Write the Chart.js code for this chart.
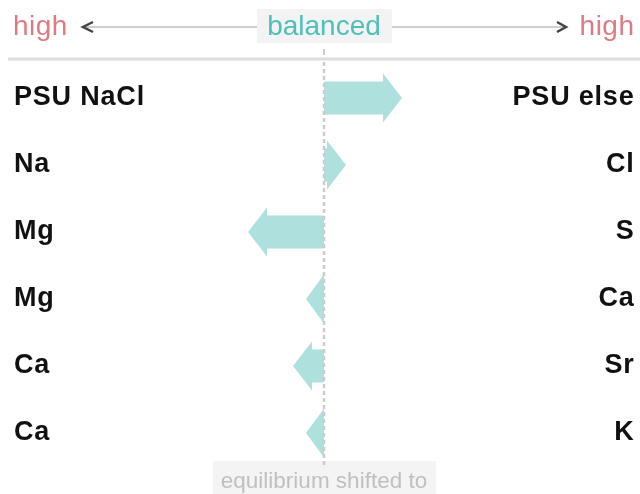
<!DOCTYPE html>
<html>
<head>
<meta charset="utf-8">
<title>Equilibrium shift</title>
<script src="https://cdn.jsdelivr.net/npm/chart.js@4"></script>
<style>
    html, body { margin: 0; padding: 0; background: #fff; }
    #wrap { width: 640px; height: 494px; }
</style>
</head>
<body>
<div id="wrap"><canvas id="shift-chart" width="640" height="494"></canvas></div>
<script>
// left-hand / right-hand element of each pair, and how far the equilibrium is shifted
const leftLabels = ['PSU NaCl', 'Na', 'Mg', 'Mg', 'Ca', 'Ca'];
const rightLabels = ['PSU else', 'Cl', 'S', 'Ca', 'Sr', 'K'];
const shiftValues = [78, 22, -76, -18, -31, -18];
const axisMin = -100;
const axisMax = 100;

const FONT = '"Liberation Sans", Arial, Helvetica, sans-serif';
const ARROW_COLOR = '#aee0de';

// draws the header, row labels, arrows and centre line around the (invisible) bars
const arrowPlugin = {
    id: 'arrowPlugin',
    beforeDraw(chart) {
        const { ctx } = chart;
        const cx = chart.scales.x.getPixelForValue(0);
        ctx.save();

        // header: high <-- balanced --> high
        ctx.textBaseline = 'middle';
        ctx.font = '28px ' + FONT;
        ctx.letterSpacing = '0.5px';
        ctx.fillStyle = '#e07a82';
        ctx.textAlign = 'left';
        ctx.fillText('high', 13, 27);
        ctx.textAlign = 'right';
        ctx.fillText('high', 634.5, 27);

        ctx.strokeStyle = '#cfcfcf';
        ctx.lineWidth = 2;
        ctx.beginPath();
        ctx.moveTo(84, 27); ctx.lineTo(258, 27);
        ctx.moveTo(392, 27); ctx.lineTo(564, 27);
        ctx.stroke();

        ctx.strokeStyle = '#444';
        ctx.lineWidth = 2.5;
        ctx.beginPath();
        ctx.moveTo(93, 22); ctx.lineTo(83, 27); ctx.lineTo(93, 32);
        ctx.moveTo(557, 22); ctx.lineTo(566, 27); ctx.lineTo(557, 32);
        ctx.stroke();

        ctx.fillStyle = '#f3f3f3';
        ctx.fillRect(257, 9, 135, 34);
        ctx.fillStyle = '#4dc0b8';
        ctx.textAlign = 'center';
        ctx.letterSpacing = '0px';
        ctx.fillText('balanced', cx, 27);

        // separator + small tick
        ctx.strokeStyle = '#dddddd';
        ctx.lineWidth = 3;
        ctx.beginPath();
        ctx.moveTo(8, 59); ctx.lineTo(640, 59);
        ctx.stroke();
        ctx.strokeStyle = '#cccccc';
        ctx.lineWidth = 2;
        ctx.beginPath();
        ctx.moveTo(cx, 49); ctx.lineTo(cx, 55);
        ctx.stroke();

        // footer
        ctx.fillStyle = '#f4f4f4';
        ctx.fillRect(213, 461, 223, 33);
        ctx.fillStyle = '#c0c0c0';
        ctx.font = '22.5px ' + FONT;
        ctx.textBaseline = 'alphabetic';
        ctx.fillText('equilibrium shifted to', cx, 488);

        // row labels from the category scale
        const yScale = chart.scales.y;
        ctx.fillStyle = '#111';
        ctx.font = 'bold 27px ' + FONT;
        ctx.letterSpacing = '0.8px';
        ctx.textBaseline = 'middle';
        leftLabels.forEach((label, i) => {
            const y = yScale.getPixelForValue(i);
            ctx.textAlign = 'left';
            ctx.fillText(label, 14, y);
            ctx.textAlign = 'right';
            ctx.fillText(rightLabels[i], 634.5, y);
        });
        ctx.restore();
    },
    afterDatasetsDraw(chart) {
        const { ctx } = chart;
        const meta = chart.getDatasetMeta(0);
        const cx = chart.scales.x.getPixelForValue(0);
        ctx.save();
        ctx.fillStyle = ARROW_COLOR;
        meta.data.forEach(bar => {
            const { x, y, base } = bar.getProps(['x', 'y', 'base'], true);
            const dir = x >= base ? 1 : -1;
            const len = Math.abs(x - base);
            const headLen = Math.min(19, len);
            const bodyEnd = x - dir * headLen;
            const bodyHalf = 16.5;
            const headHalf = 24.5;
            ctx.beginPath();
            ctx.moveTo(base, y - bodyHalf);
            ctx.lineTo(bodyEnd, y - bodyHalf);
            ctx.lineTo(bodyEnd, y - headHalf);
            ctx.lineTo(x, y);
            ctx.lineTo(bodyEnd, y + headHalf);
            ctx.lineTo(bodyEnd, y + bodyHalf);
            ctx.lineTo(base, y + bodyHalf);
            ctx.closePath();
            ctx.fill();
        });

        // dashed centre line
        ctx.strokeStyle = '#cccccc';
        ctx.lineWidth = 2.5;
        ctx.setLineDash([4, 3]);
        ctx.beginPath();
        ctx.moveTo(cx, 62);
        ctx.lineTo(cx, 466);
        ctx.stroke();
        ctx.restore();
    }
};

document.addEventListener('DOMContentLoaded', () => {
    const ctx = document.getElementById('shift-chart').getContext('2d');

    new Chart(ctx, {
        type: 'bar',
        data: {
            labels: leftLabels,
            datasets: [{
                data: shiftValues,
                backgroundColor: 'rgba(0,0,0,0)',
                borderWidth: 0,
                barThickness: 33
            }]
        },
        options: {
            indexAxis: 'y',
            responsive: false,
            animation: false,
            layout: {
                padding: { left: 224, right: 216, top: 64.5, bottom: 27.5 }
            },
            plugins: {
                legend: { display: false },
                tooltip: { enabled: false }
            },
            scales: {
                x: { display: false, min: axisMin, max: axisMax },
                y: { display: false }
            }
        },
        plugins: [arrowPlugin]
    });
});
</script>
</body>
</html>
